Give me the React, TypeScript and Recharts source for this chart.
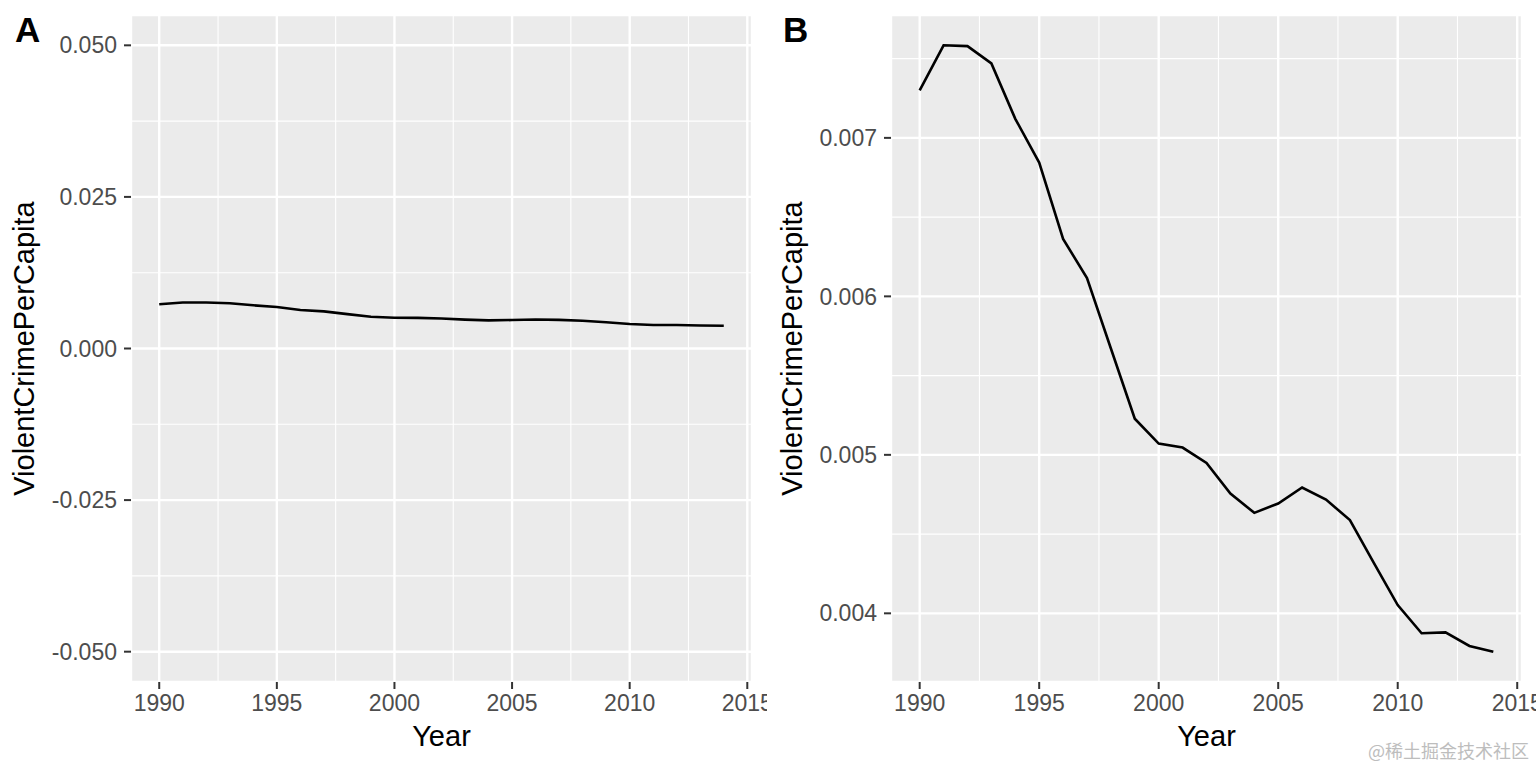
// Two ggplot-style panels: violent crime per capita by year, fixed (A) vs. free (B) y range.

import React from 'react';
import { CartesianGrid, Line, LineChart, XAxis, YAxis } from 'recharts';

const years = [
  1990, 1991, 1992, 1993, 1994, 1995, 1996, 1997, 1998, 1999, 2000, 2001, 2002,
  2003, 2004, 2005, 2006, 2007, 2008, 2009, 2010, 2011, 2012, 2013, 2014,
];
const violentCrimePerCapita = [
  0.0073, 0.007584, 0.007579, 0.00747, 0.00712, 0.006844, 0.006362, 0.006116,
  0.005671, 0.005228, 0.005071, 0.005046, 0.004949, 0.004756, 0.004634, 0.004693,
  0.004794, 0.004718, 0.004588, 0.004319, 0.004052, 0.003874, 0.00388, 0.003794,
  0.003758,
];

const yearTicks = [1990, 1995, 2000, 2005, 2010, 2015];
const yearMinorTicks = [1992.5, 1997.5, 2002.5, 2007.5, 2012.5];
const fixedTicks = [-0.05, -0.025, 0, 0.025, 0.05];
const fixedMinorTicks = [-0.0375, -0.0125, 0.0125, 0.0375];
const freeTicks = [0.004, 0.005, 0.006, 0.007];
const freeMinorTicks = [0.0045, 0.0055, 0.0065, 0.0075];

const data = years.map((year, i) => ({ year, value: violentCrimePerCapita[i] }));

// ggplot default: 5% expansion on each side of the range
const expand = (lo: number, hi: number): [number, number] => {
  const pad = (hi - lo) * 0.05;
  return [lo - pad, hi + pad];
};
const xDomain = expand(Math.min(...years), Math.max(...years));
const fixedDomain = expand(-0.05, 0.05);
const freeDomain = expand(Math.min(...violentCrimePerCapita), Math.max(...violentCrimePerCapita));

const FONT = '"Liberation Sans", Arial, Helvetica, sans-serif';
const PANEL_BG = '#EBEBEB';
const TICK_TEXT = '#4D4D4D';
const TICK_LINE = '#333333';

type PanelProps = {
  letter: string;
  left: number;
  width: number;
  marginRight: number;
  yAxisWidth: number;
  yDomain: [number, number];
  yTicks: number[];
  yMinorTicks: number[];
};

function Panel({ letter, left, width, marginRight, yAxisWidth, yDomain, yTicks, yMinorTicks }: PanelProps) {
  return (
    <div style={{ position: 'absolute', left, top: 0, width, height: 768, overflow: 'hidden' }}>
      <LineChart
        width={width}
        height={768}
        data={data}
        margin={{ top: 15, right: marginRight, bottom: 0, left: 0 }}
      >
        {/* hidden axes that only feed the minor grid */}
        <XAxis xAxisId="minor" type="number" dataKey="year" domain={xDomain} ticks={yearMinorTicks} allowDataOverflow hide />
        <YAxis yAxisId="minor" type="number" domain={yDomain} ticks={yMinorTicks} allowDataOverflow hide />
        <CartesianGrid xAxisId="minor" yAxisId="minor" fill={PANEL_BG} fillOpacity={1} stroke="#FFFFFF" strokeWidth={1.1} />
        <CartesianGrid stroke="#FFFFFF" strokeWidth={2.4} />
        <XAxis
          dataKey="year"
          type="number"
          domain={xDomain}
          ticks={yearTicks}
          interval={0}
          allowDataOverflow
          height={86}
          axisLine={false}
          tickSize={7}
          tickMargin={6}
          tickLine={{ stroke: TICK_LINE, strokeWidth: 2 }}
          tick={{ fill: TICK_TEXT, fontSize: 23 }}
          label={{ value: 'Year', position: 'insideBottom', offset: 22, fill: '#000000', fontSize: 29 }}
        />
        <YAxis
          type="number"
          domain={yDomain}
          ticks={yTicks}
          interval={0}
          allowDataOverflow
          width={yAxisWidth}
          axisLine={false}
          tickSize={7}
          tickMargin={7}
          tickLine={{ stroke: TICK_LINE, strokeWidth: 2 }}
          tick={{ fill: TICK_TEXT, fontSize: 23 }}
          tickFormatter={(v: number) => v.toFixed(3)}
          label={{
            value: 'ViolentCrimePerCapita',
            angle: -90,
            position: 'insideLeft',
            offset: 24,
            fill: '#000000',
            fontSize: 29,
            style: { textAnchor: 'middle' },
          }}
        />
        <Line
          type="linear"
          dataKey="value"
          stroke="#000000"
          strokeWidth={2.6}
          dot={false}
          activeDot={false}
          isAnimationActive={false}
        />
      </LineChart>
      <div
        style={{
          position: 'absolute',
          left: 15,
          top: 12,
          fontSize: 35,
          lineHeight: '35px',
          fontWeight: 'bold',
          color: '#000000',
        }}
      >
        {letter}
      </div>
    </div>
  );
}

export default function App() {
  return (
    <div style={{ position: 'absolute', left: 0, top: 0, width: 1536, height: 768, fontFamily: FONT, background: '#FFFFFF' }}>
      <Panel
        letter="A"
        left={0}
        width={767}
        marginRight={15}
        yAxisWidth={131}
        yDomain={fixedDomain}
        yTicks={fixedTicks}
        yMinorTicks={fixedMinorTicks}
      />
      <Panel
        letter="B"
        left={768}
        width={768}
        marginRight={14}
        yAxisWidth={123}
        yDomain={freeDomain}
        yTicks={freeTicks}
        yMinorTicks={freeMinorTicks}
      />
      <div
        style={{
          position: 'absolute',
          right: 7,
          top: 741,
          fontSize: 18,
          lineHeight: '18px',
          color: '#BDBDBD',
          fontFamily: '"Noto Sans CJK SC", sans-serif',
        }}
      >
        @稀土掘金技术社区
      </div>
    </div>
  );
}
